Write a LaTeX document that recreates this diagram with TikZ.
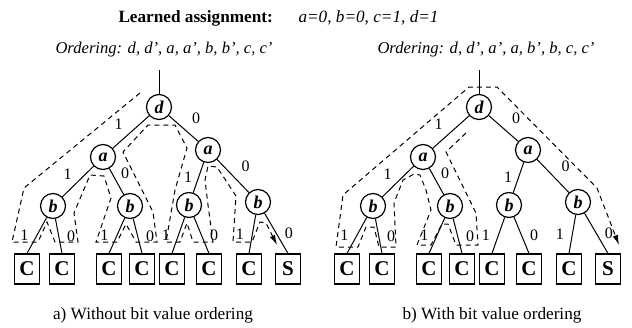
\documentclass[tikz,border=0pt]{standalone}
\usepackage{fontspec}
\setmainfont{Liberation Serif}
\usetikzlibrary{positioning,arrows.meta}

\tikzset{
  var/.style={draw, circle, on grid, line width=0.6pt, minimum size=12.5pt, inner sep=0pt,
    font=\fontsize{9}{10}\selectfont\bfseries\itshape},
  leaf/.style={draw, rectangle, on grid, line width=0.6pt, minimum width=12.5pt, minimum height=15pt,
    inner sep=0pt, font=\fontsize{10.5}{11}\selectfont\bfseries},
  lbl/.style={inner sep=1pt, font=\fontsize{8}{9}\selectfont},
  txt/.style={inner sep=0pt, font=\fontsize{8.6}{10}\selectfont},
  search/.style={dash pattern=on 2.5pt off 2pt, line width=0.5pt},
  found/.style={search, -{Latex[length=5pt,width=2.8pt]}}
}

\begin{document}
\begin{tikzpicture}[x=0.5pt, y=-0.5pt, line width=0.5pt]
\useasboundingbox (0,0) rectangle (632,327);

\node[txt, anchor=west] (title) at (118,18) {\bfseries Learned assignment:};
\node[txt, anchor=west] (assign) at (298,18) {\itshape a=0, b=0, c=1, d=1};
\node[txt, font=\fontsize{8.3}{10}\selectfont] (lord) at (164,50) {\itshape Ordering: d, d’, a, a’, b, b’, c, c’};
\node[txt, font=\fontsize{8.3}{10}\selectfont] (rord) at (486,50) {\itshape Ordering: d, d’, a’, a, b’, b, c, c’};

% a) without bit value ordering
\node[var] (ld) at (159,107) {d};
\coordinate[on grid, above=18.5pt of ld] (ltop);
\node[var, below left=25pt and 28pt of ld] (la1) {a};
\node[var, below right=21.5pt and 24.5pt of ld] (la2) {a};
\node[var, below left=24.5pt and 25pt of la1] (lb1) {b};
\node[var, below right=24.5pt and 13.5pt of la1] (lb2) {b};
\node[var, below left=27.5pt and 9.5pt of la2] (lb3) {b};
\node[var, below right=26pt and 25pt of la2] (lb4) {b};
\node[leaf, below left=31.5pt and 13pt of lb1] (lc1) {C};
\node[leaf, below right=31.5pt and 4.5pt of lb1] (lc2) {C};
\node[leaf, below left=31.5pt and 10.5pt of lb2] (lc3) {C};
\node[leaf, below right=31.5pt and 6pt of lb2] (lc4) {C};
\node[leaf, below left=32pt and 8.5pt of lb3] (lc5) {C};
\node[leaf, below right=32pt and 10pt of lb3] (lc6) {C};
\node[leaf, below left=33.5pt and 4.5pt of lb4] (lc7) {C};
\node[leaf, below right=33.5pt and 15pt of lb4] (ls) {S};

\draw (ltop) -- (ld);
\draw (ld) -- node[lbl, above left=0pt and 3pt] {1} (la1) -- node[lbl, above left=0pt and 2pt] {1} (lb1);
\draw (ld) -- node[lbl, above right=1pt and 3pt] {0} (la2) -- node[lbl, above right=1pt and 3pt] {0} (lb4);
\draw (la1) -- node[lbl, above right=0pt and 1pt] {0} (lb2);
\draw (la2) -- node[lbl, left=2pt] {1} (lb3);
\draw (lb1) -- node[lbl, left=3pt] {1} (lc1.north);
\draw (lb1) -- node[lbl, right=3pt] {0} (lc2.north);
\draw (lb2) -- node[lbl, left=3pt] {1} (lc3.north);
\draw (lb2) -- node[lbl, right=3pt] {0} (lc4.north);
\draw (lb3) -- node[lbl, left=3pt] {1} (lc5.north);
\draw (lb3) -- node[lbl, right=3pt] {0} (lc6.north);
\draw (lb4) -- node[lbl, left=3pt] {1} (lc7.north);
\draw (lb4) -- node[lbl, right=3pt] {0} (ls.north);

\draw[found] (140,93) -- (24,188) -- (12,242) -- (38,242) -- (47,222) -- (55,242) -- (78,242)
  -- (74,213) -- (90,175) -- (104,176) -- (111,198) -- (96,242) -- (117,242) -- (126,224)
  -- (136,242) -- (157,242) -- (153,212) -- (123,152) -- (148,125) -- (175,125) -- (187,148)
  -- (175,190) -- (166,242) -- (180,242) -- (187,223) -- (193,242) -- (213,242) -- (208,205)
  -- (205,180) -- (208,166) -- (217,167) -- (236,196) -- (233,242) -- (252,242) -- (260,222)
  -- (266,223) -- (277,245);

\node[txt] (lcap) at (153,315) {a) Without bit value ordering};

% b) with bit value ordering
\node[var] (rd) at (479,107) {d};
\coordinate[on grid, above=18.5pt of rd] (rtop);
\node[var, below left=25pt and 28pt of rd] (ra1) {a};
\node[var, below right=21.5pt and 24.5pt of rd] (ra2) {a};
\node[var, below left=24.5pt and 25pt of ra1] (rb1) {b};
\node[var, below right=24.5pt and 13.5pt of ra1] (rb2) {b};
\node[var, below left=27.5pt and 9.5pt of ra2] (rb3) {b};
\node[var, below right=26pt and 25pt of ra2] (rb4) {b};
\node[leaf, below left=31.5pt and 13pt of rb1] (rc1) {C};
\node[leaf, below right=31.5pt and 4.5pt of rb1] (rc2) {C};
\node[leaf, below left=31.5pt and 10.5pt of rb2] (rc3) {C};
\node[leaf, below right=31.5pt and 6pt of rb2] (rc4) {C};
\node[leaf, below left=32pt and 8.5pt of rb3] (rc5) {C};
\node[leaf, below right=32pt and 10pt of rb3] (rc6) {C};
\node[leaf, below left=33.5pt and 4.5pt of rb4] (rc7) {C};
\node[leaf, below right=33.5pt and 15pt of rb4] (rs) {S};

\draw (rtop) -- (rd);
\draw (rd) -- node[lbl, above left=0pt and 3pt] {1} (ra1) -- node[lbl, above left=0pt and 2pt] {1} (rb1);
\draw (rd) -- node[lbl, above right=1pt and 3pt] {0} (ra2) -- node[lbl, above right=1pt and 3pt] {0} (rb4);
\draw (ra1) -- node[lbl, above right=0pt and 1pt] {0} (rb2);
\draw (ra2) -- node[lbl, left=2pt] {1} (rb3);
\draw (rb1) -- node[lbl, left=3pt] {1} (rc1.north);
\draw (rb1) -- node[lbl, right=3pt] {0} (rc2.north);
\draw (rb2) -- node[lbl, left=3pt] {1} (rc3.north);
\draw (rb2) -- node[lbl, right=3pt] {0} (rc4.north);
\draw (rb3) -- node[lbl, left=3pt] {1} (rc5.north);
\draw (rb3) -- node[lbl, right=3pt] {0} (rc6.north);
\draw (rb4) -- node[lbl, left=3pt] {1} (rc7.north);
\draw (rb4) -- node[lbl, right=3pt] {0} (rs.north);

\draw[found] (466,133) -- (446,152) -- (476,213) -- (478,245) -- (456,245) -- (448,224) -- (442,224)
  -- (431,245) -- (417,245) -- (431,210) -- (426,190) -- (420,175) -- (414,174) -- (403,180)
  -- (394,203) -- (396,247) -- (379,247) -- (374,227) -- (366,227) -- (358,247) -- (336,247)
  -- (343,195) -- (469,87) -- (497,87) -- (597,188) -- (619,245);

\node[txt] (rcap) at (492,315) {b) With bit value ordering};
\end{tikzpicture}
\end{document}
